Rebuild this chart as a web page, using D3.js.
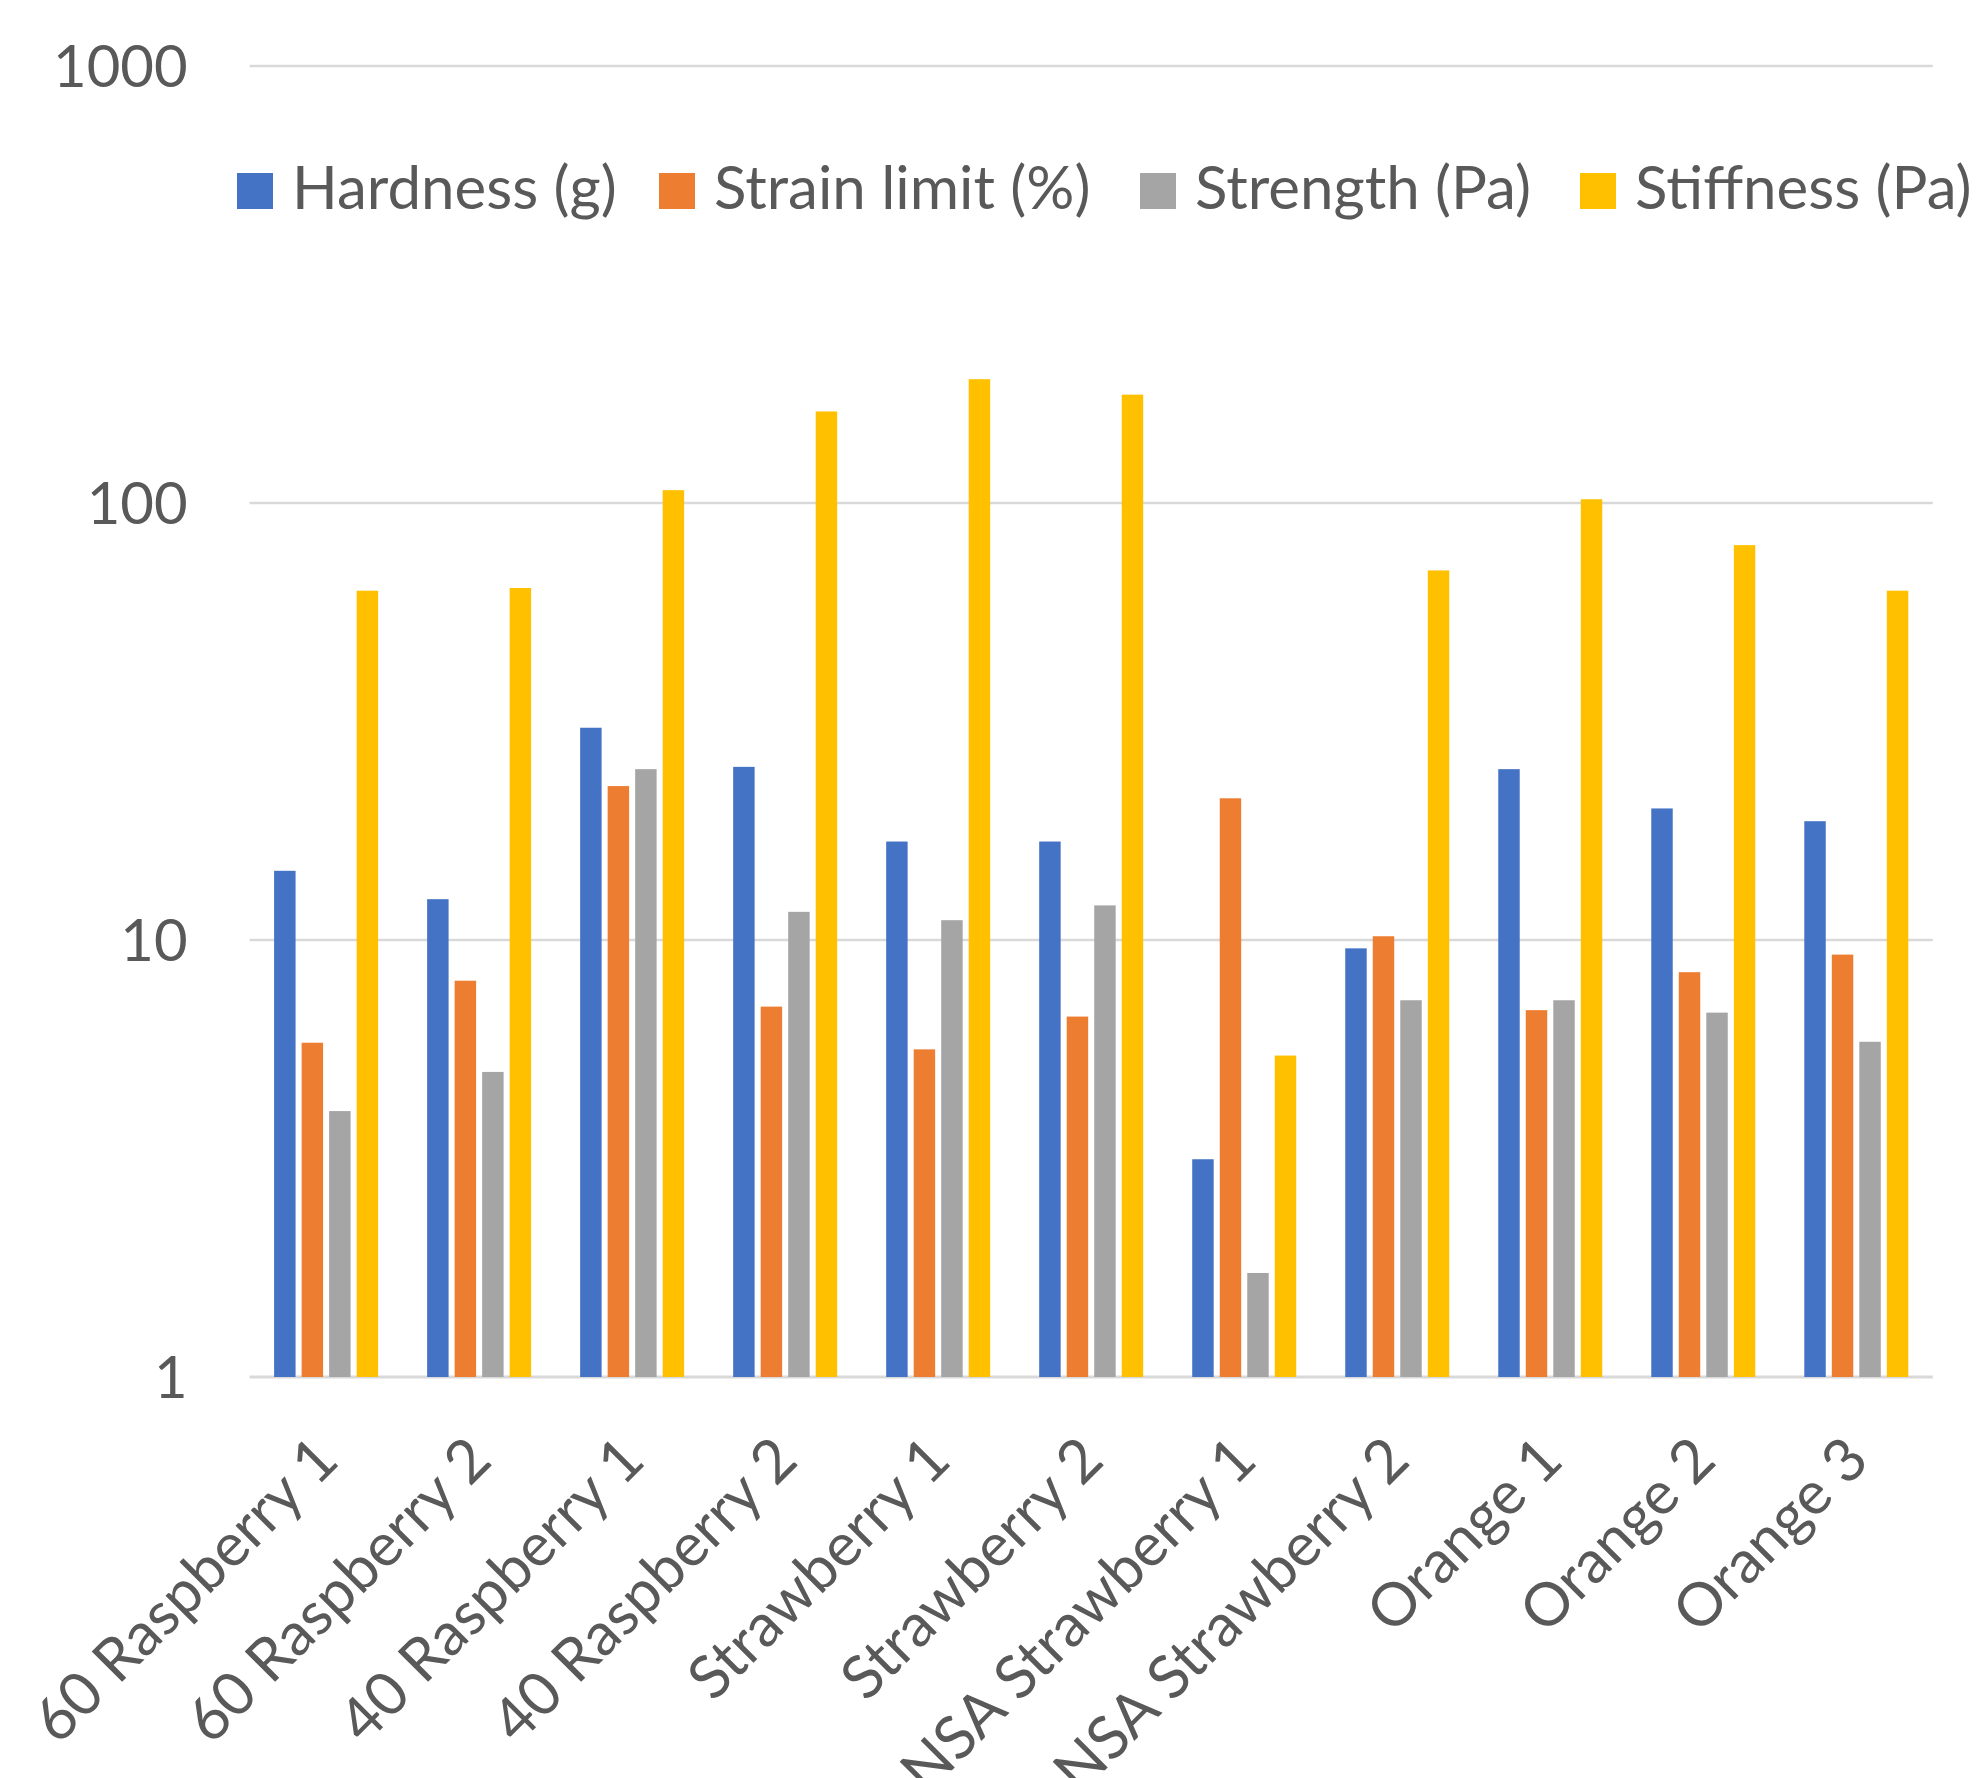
<!DOCTYPE html>
<html>
<head>
<meta charset="utf-8">
<script src="https://cdn.jsdelivr.net/npm/d3@7"></script>
<style>
  html, body { margin: 0; padding: 0; background: #ffffff; }
  svg { display: block; }
  text { font-family: Lato, "Open Sans", sans-serif; fill: #595959; }
</style>
</head>
<body>
<svg id="chart" width="1977" height="1778"></svg>
<script>
// Sample names along the x axis
const categories = [
  "60 Raspberry 1", "60 Raspberry 2", "40 Raspberry 1", "40 Raspberry 2",
  "Strawberry 1", "Strawberry 2", "NSA Strawberry 1", "NSA Strawberry 2",
  "Orange 1", "Orange 2", "Orange 3"
];

// Measured properties, one value per sample
const hardness    = [14.4, 12.4, 30.6, 24.9, 16.8, 16.8, 3.15, 9.57, 24.6, 20.0, 18.7];
const strainLimit = [5.82, 8.07, 22.5, 7.04, 5.62, 6.68, 21.1, 10.2, 6.91, 8.44, 9.26];
const strength    = [4.06, 4.99, 24.6, 11.6, 11.1, 12.0, 1.73, 7.28, 7.28, 6.82, 5.85];
const stiffness   = [63.0, 63.9, 107, 162, 192, 177, 5.44, 70.1, 102, 80.1, 63.0];

const seriesNames  = ["Hardness (g)", "Strain limit (%)", "Strength (Pa)", "Stiffness (Pa)"];
const seriesValues = [hardness, strainLimit, strength, stiffness];
const seriesColors = ["#4472C4", "#ED7D31", "#A5A5A5", "#FFC000"];

const yTicks = [1, 10, 100, 1000];

// ---- layout ----
const plot = { left: 249.6, right: 1932.8, top: 66, bottom: 1377 };
const groupWidth = 104;
const gridColor = "#d9d9d9";
const fontSize = 60;

const svg = d3.select("#chart");

const x = d3.scaleBand()
  .domain(categories)
  .range([plot.left, plot.right])
  .paddingInner(0)
  .paddingOuter(0);

const y = d3.scaleLog()
  .domain([1, 1000])
  .range([plot.bottom, plot.top]);

const xInner = d3.scaleBand()
  .domain(seriesNames)
  .range([0, groupWidth])
  .paddingInner(0.22)
  .paddingOuter(0);

// Horizontal gridlines (the bottom one doubles as the category axis line)
svg.append("g")
  .selectAll("line")
  .data(yTicks)
  .join("line")
  .attr("x1", plot.left)
  .attr("x2", plot.right)
  .attr("y1", d => y(d))
  .attr("y2", d => y(d))
  .attr("stroke", gridColor)
  .attr("stroke-width", d => d === 1 ? 3 : 2.5);

// Value axis labels
const yAxis = d3.axisLeft(y)
  .tickValues(yTicks)
  .tickFormat(d3.format("d"))
  .tickSize(0)
  .tickPadding(0);

const yAxisG = svg.append("g")
  .attr("transform", `translate(${plot.left - 62},0)`)
  .call(yAxis);
yAxisG.select(".domain").remove();
yAxisG.selectAll("text")
  .attr("font-size", 58)
  .attr("font-family", "Lato, sans-serif")
  .attr("fill", "#595959")
  .attr("dy", "0.36em");

// Bars
const rows = categories.map((c, i) => ({
  category: c,
  values: seriesNames.map((s, k) => ({ series: s, value: seriesValues[k][i], color: seriesColors[k] }))
}));

const groups = svg.append("g")
  .selectAll("g")
  .data(rows)
  .join("g")
  .attr("transform", d => `translate(${x(d.category) + x.bandwidth() / 2 - groupWidth / 2},0)`);

groups.selectAll("rect")
  .data(d => d.values)
  .join("rect")
  .attr("x", d => xInner(d.series))
  .attr("width", xInner.bandwidth())
  .attr("y", d => y(d.value))
  .attr("height", d => y(1) - y(d.value))
  .attr("fill", d => d.color);

// Category labels, rotated 45 degrees
svg.append("g")
  .selectAll("text")
  .data(categories)
  .join("text")
  .attr("transform", d => `translate(${x(d) + x.bandwidth() / 2 + 15},${plot.bottom + 86}) rotate(-45)`)
  .attr("text-anchor", "end")
  .attr("font-size", fontSize)
  .text(d => d);

// Legend across the top
const legendX = [237, 659, 1140, 1580];
const legend = svg.append("g")
  .selectAll("g")
  .data(seriesNames)
  .join("g")
  .attr("transform", (d, i) => `translate(${legendX[i]},173)`);

legend.append("rect")
  .attr("width", 36)
  .attr("height", 36)
  .attr("fill", (d, i) => seriesColors[i]);

legend.append("text")
  .attr("x", 55)
  .attr("y", 36)
  .attr("font-size", fontSize)
  .text(d => d);
</script>
</body>
</html>
